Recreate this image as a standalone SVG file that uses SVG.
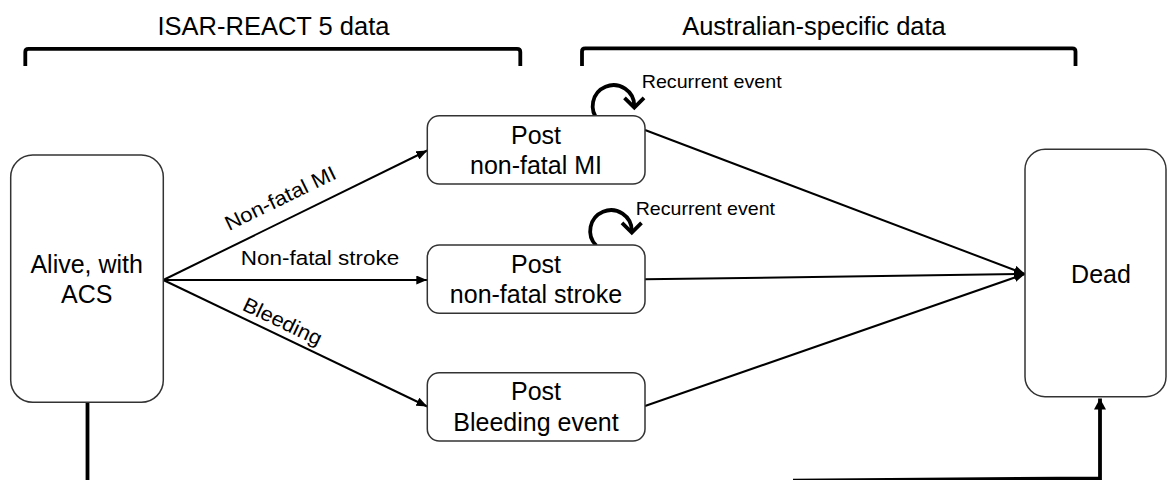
<svg xmlns="http://www.w3.org/2000/svg" width="1167" height="480" viewBox="0 0 1167 480">
<style>
  text { font-family: "Liberation Sans", Arial, sans-serif; fill: #000; }
  .title { font-size: 25.5px; text-anchor: middle; }
  .body { font-size: 25px; text-anchor: middle; }
  .lbl { font-size: 20.5px; }
  .small { font-size: 18.5px; }
  .box { fill: #fff; stroke: #333; stroke-width: 1.5; }
  .bracket { fill: none; stroke: #000; stroke-width: 3.8; stroke-linejoin: round; }
  .conn { fill: none; stroke: #000; stroke-width: 2; }
  .thick { fill: none; stroke: #000; stroke-width: 3.8; }
  .loop { fill: none; stroke: #000; stroke-width: 3.8; stroke-linecap: butt; stroke-linejoin: miter; }
</style>
<defs>
  <marker id="ah" markerUnits="userSpaceOnUse" viewBox="0 0 11 9" refX="11" refY="4.5" markerWidth="11" markerHeight="9" orient="auto">
    <path d="M0,0 L11,4.5 L0,9 z" fill="#000"/>
  </marker>
  <marker id="ahBig" markerUnits="userSpaceOnUse" viewBox="0 0 11 12" refX="11" refY="6" markerWidth="11" markerHeight="12" orient="auto">
    <path d="M0,0 L11,6 L0,12 z" fill="#000"/>
  </marker>
</defs>

<g id="header-isar">
  <text class="title" x="273.5" y="35">ISAR-REACT 5 data</text>
  <path class="bracket" d="M25.3,66 L25.3,52 Q25.3,48.8 28.5,48.8 L517,48.8 Q520.3,48.8 520.3,52 L520.3,66"/>
</g>
<g id="header-aus">
  <text class="title" x="814" y="35">Australian-specific data</text>
  <path class="bracket" d="M582,66 L582,51.5 Q582,48.3 585.2,48.3 L1072.3,48.3 Q1075.5,48.3 1075.5,51.5 L1075.5,66"/>
</g>

<g id="connectors">
  <line class="conn" x1="163.3" y1="280" x2="427.3" y2="150.5" marker-end="url(#ah)"/>
  <line class="conn" x1="163.3" y1="280" x2="427.3" y2="280" marker-end="url(#ah)"/>
  <line class="conn" x1="163.3" y1="280" x2="427.3" y2="406.5" marker-end="url(#ah)"/>
  <line class="conn" x1="645" y1="130" x2="1025" y2="274" marker-end="url(#ah)"/>
  <line class="conn" x1="645" y1="279.3" x2="1025" y2="274" marker-end="url(#ah)"/>
  <line class="conn" x1="645" y1="406" x2="1025" y2="274" marker-end="url(#ah)"/>
  <line class="thick" x1="87.5" y1="402.3" x2="87.5" y2="482"/>
  <path class="thick" d="M793,480.6 L1100,478.3 L1100,398.5" marker-end="url(#ahBig)"/>
  <path class="loop" d="M598.8,120.7 A20.8,20.8 0 1 1 634.3,106"/>
  <path class="loop" d="M624.5,97.8 L634.3,107.5 L644,97.8"/>
  <path class="loop" d="M596.3,245.7 A20.8,20.8 0 1 1 631.8,231"/>
  <path class="loop" d="M622,222.8 L631.8,232.5 L641.5,222.8"/>
  <text class="lbl" transform="translate(283.3,204.5) rotate(-25.9)" text-anchor="middle" textLength="121" lengthAdjust="spacingAndGlyphs">Non-fatal  MI</text>
  <text class="lbl" x="240.7" y="265" textLength="158.6" lengthAdjust="spacingAndGlyphs">Non-fatal  stroke</text>
  <text class="lbl" transform="translate(279.5,327.8) rotate(25.5)" text-anchor="middle" textLength="85" lengthAdjust="spacingAndGlyphs">Bleeding</text>
  <text class="small" x="641.7" y="88.3" textLength="140" lengthAdjust="spacingAndGlyphs">Recurrent event</text>
  <text class="small" x="635.7" y="215" textLength="139.3" lengthAdjust="spacingAndGlyphs">Recurrent event</text>
</g>

<g id="node-alive">
  <rect class="box" x="10.7" y="155" width="152.6" height="247.3" rx="22" ry="22"/>
  <text class="body" x="86.7" y="272.7">Alive, with</text>
  <text class="body" x="86.7" y="302.7">ACS</text>
</g>
<g id="node-mi">
  <rect class="box" x="427.3" y="115.7" width="217.7" height="68.3" rx="12" ry="12"/>
  <text class="body" x="536" y="144">Post</text>
  <text class="body" x="536" y="174.3">non-fatal MI</text>
</g>
<g id="node-stroke">
  <rect class="box" x="427.3" y="245" width="217.7" height="68.3" rx="12" ry="12"/>
  <text class="body" x="536" y="272.7">Post</text>
  <text class="body" x="536" y="303.3">non-fatal stroke</text>
</g>
<g id="node-bleeding">
  <rect class="box" x="427.3" y="372.7" width="217.7" height="68.3" rx="12" ry="12"/>
  <text class="body" x="536" y="400">Post</text>
  <text class="body" x="536" y="431">Bleeding event</text>
</g>
<g id="node-dead">
  <rect class="box" x="1025" y="149.3" width="141" height="247.4" rx="20" ry="20"/>
  <text class="body" x="1101" y="282.7">Dead</text>
</g>
</svg>
